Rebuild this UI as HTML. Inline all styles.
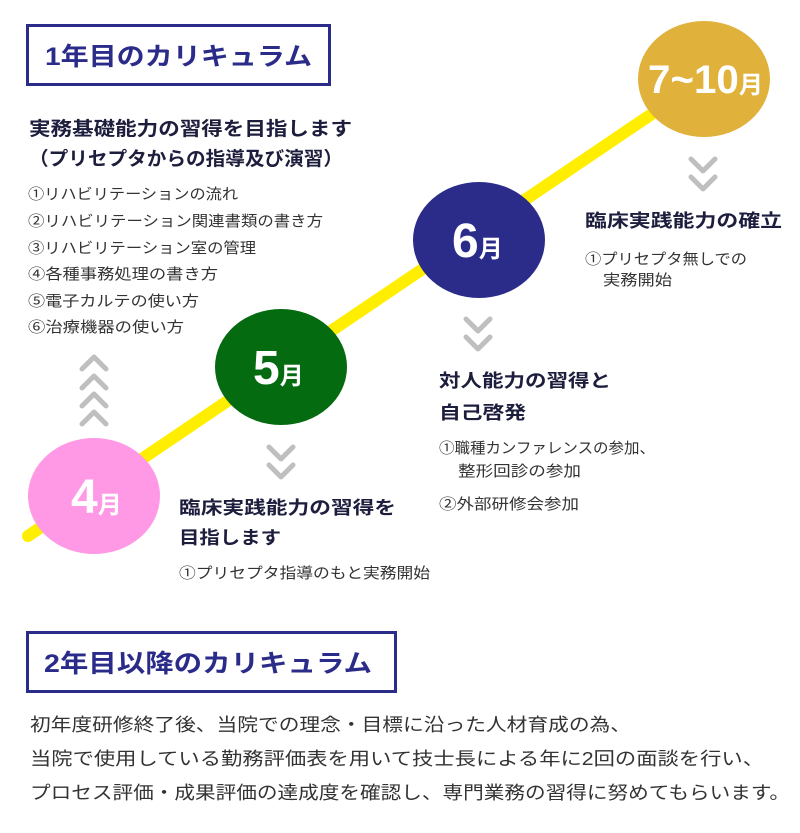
<!DOCTYPE html>
<html><head><meta charset="utf-8"><style>
html,body{margin:0;padding:0;background:#fff;}
svg{display:block;}
text{font-family:"Liberation Sans","Noto Sans CJK JP",sans-serif;}
</style></head><body>
<svg width="800" height="833" viewBox="0 0 800 833" xmlns="http://www.w3.org/2000/svg">
<rect width="800" height="833" fill="#fff"/>
<!-- box 1 -->
<rect x="27.5" y="25.5" width="302" height="59" fill="none" stroke="#2b2c8a" stroke-width="3"/>
<text x="45" y="65" font-size="25" font-weight="bold" fill="#2b2c8a" textLength="267" lengthAdjust="spacingAndGlyphs">1年目のカリキュラム</text>
<!-- heading -->
<g fill="#1d1d3d" font-weight="bold" font-size="19">
<text x="29" y="135" textLength="323" lengthAdjust="spacingAndGlyphs">実務基礎能力の習得を目指します</text>
<text x="29" y="165" textLength="314" lengthAdjust="spacingAndGlyphs">（プリセプタからの指導及び演習）</text>
</g>
<g fill="#333" font-size="15">
<text x="28" y="199" textLength="210" lengthAdjust="spacingAndGlyphs">①リハビリテーションの流れ</text>
<text x="28" y="226" textLength="295" lengthAdjust="spacingAndGlyphs">②リハビリテーション関連書類の書き方</text>
<text x="28" y="253" textLength="228" lengthAdjust="spacingAndGlyphs">③リハビリテーション室の管理</text>
<text x="28" y="279" textLength="190" lengthAdjust="spacingAndGlyphs">④各種事務処理の書き方</text>
<text x="28" y="306" textLength="171" lengthAdjust="spacingAndGlyphs">⑤電子カルテの使い方</text>
<text x="28" y="332" textLength="156" lengthAdjust="spacingAndGlyphs">⑥治療機器の使い方</text>
</g>
<!-- yellow line -->
<line x1="28" y1="536" x2="705" y2="78" stroke="#ffee00" stroke-width="12" stroke-linecap="round"/>
<!-- chevrons -->
<g fill="none" stroke="#bfbfbf" stroke-width="5" stroke-linecap="round" stroke-linejoin="round">
<polyline points="82,369 94,357 106,369"/>
<polyline points="82,388 94,376 106,388"/>
<polyline points="82,406 94,394 106,406"/>
<polyline points="82,424 94,412 106,424"/>
<polyline points="269,447 281,459 293,447"/>
<polyline points="269,465 281,477 293,465"/>
<polyline points="466,319 478,331 490,319"/>
<polyline points="466,337 478,349 490,337"/>
<polyline points="691,159 703,171 715,159"/>
<polyline points="691,177 703,189 715,177"/>
</g>
<!-- circles -->
<ellipse cx="94" cy="496" rx="66" ry="58" fill="#ff99e6"/>
<ellipse cx="281" cy="367" rx="66" ry="58" fill="#056b10"/>
<ellipse cx="479" cy="240" rx="66" ry="58" fill="#2b2c8a"/>
<ellipse cx="704" cy="79" rx="66" ry="58" fill="#e0b23c"/>
<g fill="#fff" font-weight="bold">
<text x="71" y="513" font-size="48">4<tspan font-size="24">月</tspan></text>
<text x="253" y="384" font-size="48">5<tspan font-size="24">月</tspan></text>
<text x="452" y="257" font-size="48">6<tspan font-size="24">月</tspan></text>
<text x="648" y="93" font-size="40" textLength="115" lengthAdjust="spacingAndGlyphs">7~10<tspan font-size="24">月</tspan></text>
</g>
<!-- texts -->
<g fill="#1d1d3d" font-weight="bold" font-size="18">
<text x="585" y="227" textLength="197" lengthAdjust="spacingAndGlyphs">臨床実践能力の確立</text>
<text x="439" y="387" textLength="172" lengthAdjust="spacingAndGlyphs">対人能力の習得と</text>
<text x="439" y="419" textLength="87" lengthAdjust="spacingAndGlyphs">自己啓発</text>
<text x="179" y="514" textLength="217" lengthAdjust="spacingAndGlyphs">臨床実践能力の習得を</text>
<text x="179" y="544" textLength="102" lengthAdjust="spacingAndGlyphs">目指します</text>
</g>
<g fill="#333" font-size="15">
<text x="585" y="264" textLength="162" lengthAdjust="spacingAndGlyphs">①プリセプタ無しでの</text>
<text x="603" y="285" textLength="69" lengthAdjust="spacingAndGlyphs">実務開始</text>
<text x="439" y="453" textLength="216" lengthAdjust="spacingAndGlyphs">①職種カンファレンスの参加、</text>
<text x="458" y="476" textLength="123" lengthAdjust="spacingAndGlyphs">整形回診の参加</text>
<text x="439" y="509" textLength="140" lengthAdjust="spacingAndGlyphs">②外部研修会参加</text>
<text x="179" y="578" textLength="251" lengthAdjust="spacingAndGlyphs">①プリセプタ指導のもと実務開始</text>
</g>
<!-- box 2 -->
<rect x="27.5" y="632.5" width="368" height="59" fill="none" stroke="#2b2c8a" stroke-width="3"/>
<text x="44" y="672" font-size="25" font-weight="bold" fill="#2b2c8a" textLength="328" lengthAdjust="spacingAndGlyphs">2年目以降のカリキュラム</text>
<g fill="#333" font-size="18">
<text x="30" y="731" textLength="601" lengthAdjust="spacingAndGlyphs">初年度研修終了後、当院での理念・目標に沿った人材育成の為、</text>
<text x="30" y="765" textLength="734" lengthAdjust="spacingAndGlyphs">当院で使用している勤務評価表を用いて技士長による年に2回の面談を行い、</text>
<text x="30" y="799" textLength="760" lengthAdjust="spacingAndGlyphs">プロセス評価・成果評価の達成度を確認し、専門業務の習得に努めてもらいます。</text>
</g>
</svg>
</body></html>
